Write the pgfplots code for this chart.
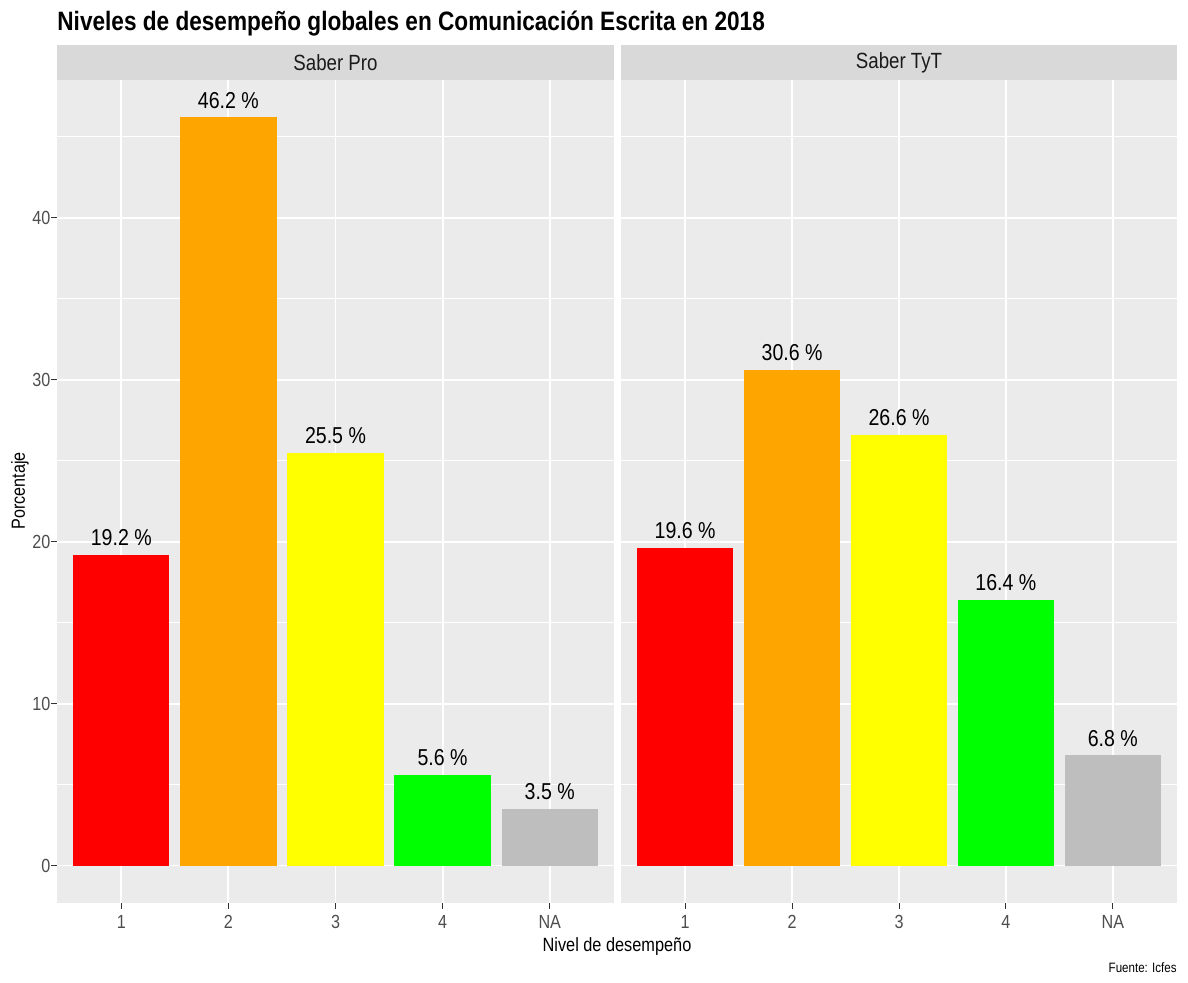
\documentclass[border=0pt]{standalone}
\usepackage{pgfplots}
\pgfplotsset{compat=1.18}
\usepackage{fontspec}
\setmainfont{Liberation Sans}[FakeStretch=0.85]
\definecolor{panelbg}{HTML}{EBEBEB}
\definecolor{stripbg}{HTML}{D9D9D9}
\definecolor{ticklab}{HTML}{4D4D4D}
\definecolor{tickcol}{HTML}{333333}
\definecolor{striptext}{HTML}{1A1A1A}
\definecolor{c1}{HTML}{FF0000}
\definecolor{c2}{HTML}{FFA500}
\definecolor{c3}{HTML}{FFFF00}
\definecolor{c4}{HTML}{00FF00}
\definecolor{c5}{HTML}{BEBEBE}
\pgfplotsset{
  facet/.style={
    scale only axis, width=278.5pt, height=411.5pt,
    xmin=0.4, xmax=5.6, ymin=-2.31, ymax=48.51,
    xtick={1,2,3,4,5}, xticklabels={1,2,3,4,NA},
    ytick={0,10,20,30,40}, minor ytick={5,15,25,35,45},
    grid=both,
    major grid style={draw=white, line width=0.9pt},
    minor grid style={draw=white, line width=0.45pt},
    axis background/.style={fill=panelbg},
    axis line style={draw=none},
    tick align=outside, major tick length=2.8pt, minor tick length=0pt,
    tick style={draw=tickcol, line width=0.5pt},
    tick label style={font=\fontsize{9.5}{11}\selectfont, text=ticklab},
    yticklabel style={xshift=3pt},
    /pgf/number format/assume math mode=true,
    xtick pos=bottom, ytick pos=left,
    bar width=0.9,
    nodes near coords={\pgfmathprintnumber[fixed,fixed zerofill,precision=1]{\pgfplotspointmeta}~\%},
    every node near coord/.append style={font=\fontsize{11.5}{13}\selectfont, text=black, anchor=south, yshift=1pt},
    clip=false,
  },
  bar/.style={ybar, bar shift=0pt, draw=none, fill=#1},
}
\begin{document}
\begin{tikzpicture}
\useasboundingbox (0,0) rectangle (594pt,-491.5pt);
% Left panel
\begin{axis}[facet, at={(28.5pt,-451.5pt)}, anchor=south west]
\addplot[bar=c1] coordinates {(1,19.2)};
\addplot[bar=c2] coordinates {(2,46.2)};
\addplot[bar=c3] coordinates {(3,25.5)};
\addplot[bar=c4] coordinates {(4,5.6)};
\addplot[bar=c5] coordinates {(5,3.5)};
\end{axis}
% Right panel
\begin{axis}[facet, at={(310.5pt,-451.5pt)}, anchor=south west, width=278pt,
  yticklabels={}, y tick style={draw=none}]
\addplot[bar=c1] coordinates {(1,19.6)};
\addplot[bar=c2] coordinates {(2,30.6)};
\addplot[bar=c3] coordinates {(3,26.6)};
\addplot[bar=c4] coordinates {(4,16.4)};
\addplot[bar=c5] coordinates {(5,6.8)};
\end{axis}
% strips
\fill[stripbg] (28.5pt,-22.5pt) rectangle (307pt,-40pt);
\fill[stripbg] (310.5pt,-22.5pt) rectangle (588.5pt,-40pt);
\node[font=\fontsize{11}{13}\selectfont, text=striptext] at (167.75pt,-31.25pt) {Saber Pro};
\node[font=\fontsize{11}{13}\selectfont, text=striptext] at (449.5pt,-31.25pt) {Saber TyT};
% title
\node[anchor=base west, font=\bfseries\fontsize{13.3}{15}\selectfont, inner sep=0pt] at (28.5pt,-15.5pt) {Niveles de desempeño globales en Comunicación Escrita en 2018};
% axis titles
\node[rotate=90, font=\fontsize{9.5}{11}\selectfont] at (10pt,-245.5pt) {Porcentaje};
\node[font=\fontsize{9.6}{11}\selectfont] at (308.5pt,-473.5pt) {Nivel de desempeño};
\node[anchor=east, font=\fontsize{6.8}{8}\selectfont, inner sep=0pt] at (588.5pt,-484pt) {Fuente: Icfes};
\end{tikzpicture}
\end{document}
